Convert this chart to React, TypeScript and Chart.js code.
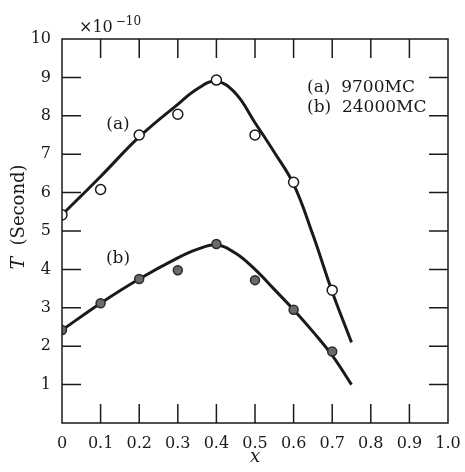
import React, { useEffect, useRef } from "react";
import { Chart, registerables } from "chart.js";

Chart.register(...registerables);

// Smooth fitted curve (a) 9700MC
const curveAX = [0, 0.1, 0.2, 0.3, 0.35, 0.4, 0.45, 0.5, 0.55, 0.6, 0.65, 0.7, 0.75];
const curveAY = [5.42, 6.42, 7.45, 8.3, 8.7, 8.9, 8.58, 7.82, 7.05, 6.22, 4.9, 3.42, 2.1];
// Measured points (a)
const pointsAX = [0, 0.1, 0.2, 0.3, 0.4, 0.5, 0.6, 0.7];
const pointsAY = [5.42, 6.08, 7.5, 8.04, 8.93, 7.5, 6.27, 3.46];

// Smooth fitted curve (b) 24000MC
const curveBX = [0, 0.1, 0.2, 0.3, 0.35, 0.4, 0.45, 0.5, 0.55, 0.6, 0.65, 0.7, 0.75];
const curveBY = [2.42, 3.12, 3.75, 4.3, 4.52, 4.64, 4.42, 4.0, 3.48, 2.95, 2.38, 1.76, 1.0];
// Measured points (b)
const pointsBX = [0, 0.1, 0.2, 0.3, 0.4, 0.5, 0.6, 0.7];
const pointsBY = [2.42, 3.12, 3.75, 3.98, 4.66, 3.72, 2.95, 1.86];

const xTickValues = [0.1, 0.2, 0.3, 0.4, 0.5, 0.6, 0.7, 0.8, 0.9];
const yTickValues = [1, 2, 3, 4, 5, 6, 7, 8, 9];
const legendLines = ["(a)  9700MC", "(b)  24000MC"];
const curveLabels = [
  { text: "(a)", x: 0.145, y: 7.76 },
  { text: "(b)", x: 0.145, y: 4.27 },
];

const FONT = "'DejaVu Serif', 'Liberation Serif', serif";
const INK = "#1a1a1a";

const zip = (xs: number[], ys: number[]) => xs.map((x, i) => ({ x, y: ys[i] }));

const framePlugin = {
  id: "framePlugin",
  afterDraw(chart: any) {
    const { ctx, chartArea: a, scales } = chart;
    const xs = scales.x;
    const ys = scales.y;
    const tl = 19;
    ctx.save();
    ctx.strokeStyle = INK;
    ctx.lineWidth = 1.5;
    ctx.strokeRect(a.left, a.top, a.right - a.left, a.bottom - a.top);
    ctx.beginPath();
    xTickValues.forEach((v) => {
      const px = xs.getPixelForValue(v);
      ctx.moveTo(px, a.bottom);
      ctx.lineTo(px, a.bottom - tl);
      ctx.moveTo(px, a.top);
      ctx.lineTo(px, a.top + tl);
    });
    yTickValues.forEach((v) => {
      const py = ys.getPixelForValue(v);
      ctx.moveTo(a.left, py);
      ctx.lineTo(a.left + tl, py);
      ctx.moveTo(a.right, py);
      ctx.lineTo(a.right - tl, py);
    });
    ctx.stroke();

    ctx.fillStyle = INK;
    // curve labels
    ctx.font = `17px ${FONT}`;
    ctx.textAlign = "center";
    ctx.textBaseline = "middle";
    curveLabels.forEach((l) => {
      ctx.fillText(l.text, xs.getPixelForValue(l.x), ys.getPixelForValue(l.y));
    });
    // legend text
    ctx.textAlign = "left";
    ctx.font = `17px ${FONT}`;
    legendLines.forEach((t, i) => {
      ctx.fillText(t, 307, 88 + i * 20);
    });
    // exponent
    ctx.textBaseline = "alphabetic";
    ctx.font = `16px ${FONT}`;
    ctx.fillText("×10", 79, 32);
    const w = ctx.measureText("×10").width;
    ctx.font = `12px ${FONT}`;
    ctx.fillText("−10", 79 + w + 3, 25);
    // x title
    ctx.textAlign = "center";
    ctx.textBaseline = "middle";
    ctx.font = `italic 18px ${FONT}`;
    ctx.fillText("x", (a.left + a.right) / 2, 457);
    // y title
    ctx.translate(19, 217);
    ctx.rotate(-Math.PI / 2);
    ctx.textAlign = "left";
    ctx.font = `italic 19px ${FONT}`;
    const tW = ctx.measureText("T").width;
    ctx.font = `18px ${FONT}`;
    const rest = "  (Second)";
    const rW = ctx.measureText(rest).width;
    const start = -(tW + rW) / 2;
    ctx.font = `italic 19px ${FONT}`;
    ctx.fillText("T", start, 0);
    ctx.font = `18px ${FONT}`;
    ctx.fillText(rest, start + tW, 0);
    ctx.restore();
  },
};

export default function App() {
  const ref = useRef<HTMLCanvasElement | null>(null);
  useEffect(() => {
    if (!ref.current) return;
    const chart = new Chart(ref.current, {
      type: "line",
      data: {
        datasets: [
          {
            data: zip(curveAX, curveAY),
            borderColor: INK,
            borderWidth: 3,
            pointRadius: 0,
            tension: 0.4,
            order: 2,
          },
          {
            data: zip(pointsAX, pointsAY),
            showLine: false,
            pointRadius: 5,
            pointBackgroundColor: "#ffffff",
            pointBorderColor: INK,
            pointBorderWidth: 1.5,
            order: 1,
          },
          {
            data: zip(curveBX, curveBY),
            borderColor: INK,
            borderWidth: 3,
            pointRadius: 0,
            tension: 0.4,
            order: 2,
          },
          {
            data: zip(pointsBX, pointsBY),
            showLine: false,
            pointRadius: 4.5,
            pointBackgroundColor: "#6a6a6a",
            pointBorderColor: "#2a2a2a",
            pointBorderWidth: 1.5,
            order: 1,
          },
        ] as any,
      },
      options: {
        animation: false,
        responsive: false,
        layout: { padding: { top: 39, right: 17, left: 0, bottom: 0 } },
        plugins: { legend: { display: false }, tooltip: { enabled: false } },
        scales: {
          x: {
            type: "linear",
            min: 0,
            max: 1,
            grid: { display: false, drawTicks: false },
            border: { display: false },
            afterFit: (s: any) => {
              s.height = 49;
              s.paddingLeft = 0;
              s.paddingRight = 0;
            },
            ticks: {
              stepSize: 0.1,
              padding: 11,
              color: INK,
              font: { family: FONT, size: 16 },
              callback: (v: any) => {
                const r = Math.round(Number(v) * 10) / 10;
                return r === 0 ? "0" : r.toFixed(1);
              },
            },
          },
          y: {
            type: "linear",
            min: 0,
            max: 10,
            grid: { display: false, drawTicks: false },
            border: { display: false },
            afterFit: (s: any) => {
              s.width = 62;
              s.paddingTop = 0;
              s.paddingBottom = 0;
            },
            ticks: {
              stepSize: 1,
              padding: 11,
              color: INK,
              font: { family: FONT, size: 16 },
              callback: (v: any) => (Number(v) === 0 ? "" : String(v)),
            },
          },
        },
      },
      plugins: [framePlugin],
    });
    return () => chart.destroy();
  }, []);
  return (
    <canvas
      ref={ref}
      width={465}
      height={472}
      style={{ position: "absolute", left: 0, top: 0, background: "#fff" }}
    />
  );
}
